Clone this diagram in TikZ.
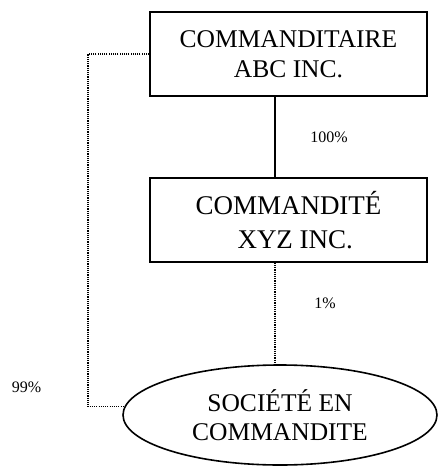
\documentclass[tikz,border=0pt]{standalone}
\usepackage{fontspec}
\setmainfont{Liberation Serif}
\usetikzlibrary{shapes.geometric}

\begin{document}
\begin{tikzpicture}[x=1pt,y=-1pt,
    entite/.style={draw,line width=1.6pt,minimum width=277pt,minimum height=84pt,
        align=center,inner sep=0pt},
    societe/.style={draw,ellipse,line width=1.6pt,minimum width=314pt,minimum height=100pt,
        align=center,inner sep=0pt},
    pct/.style={font=\fontsize{16}{19}\selectfont},
    lien/.style={line width=1.6pt},
    lienpt/.style={line width=1.3pt,dash pattern=on 1.1pt off 1.1pt}]
            \useasboundingbox (0,0) rectangle (437,466);

            \node[entite,font=\fontsize{25.5}{30}\selectfont] (abc) at (288.5,54) {COMMANDITAIRE\\ABC INC.};
            \node[entite,font=\fontsize{27}{34}\selectfont] (xyz) at (288.5,220) {COMMANDITÉ\\\hspace{0.5em}XYZ INC.};
            \node[societe,font=\fontsize{25.5}{29}\selectfont] (sec) at (280,415) {SOCIÉTÉ EN\\COMMANDITE};

            \coordinate (c1) at (88,54);
            \coordinate (c2) at (c1 |- sec.177);

            \draw[lien] (abc.south -| 275,0) -- (xyz.north -| 275,0);
            \draw[lienpt] (xyz.south -| 275,0) -- (sec.north -| 275,0);
            \draw[lienpt] (abc.west) -- (c1) -- (c2) -- (sec.177);

            \node[pct] (p100) at (329,137) {100\%};
            \node[pct] (p1) at (325,303) {1\%};
            \node[pct] (p99) at (26.5,387) {99\%};
        \end{tikzpicture}
\end{document}
